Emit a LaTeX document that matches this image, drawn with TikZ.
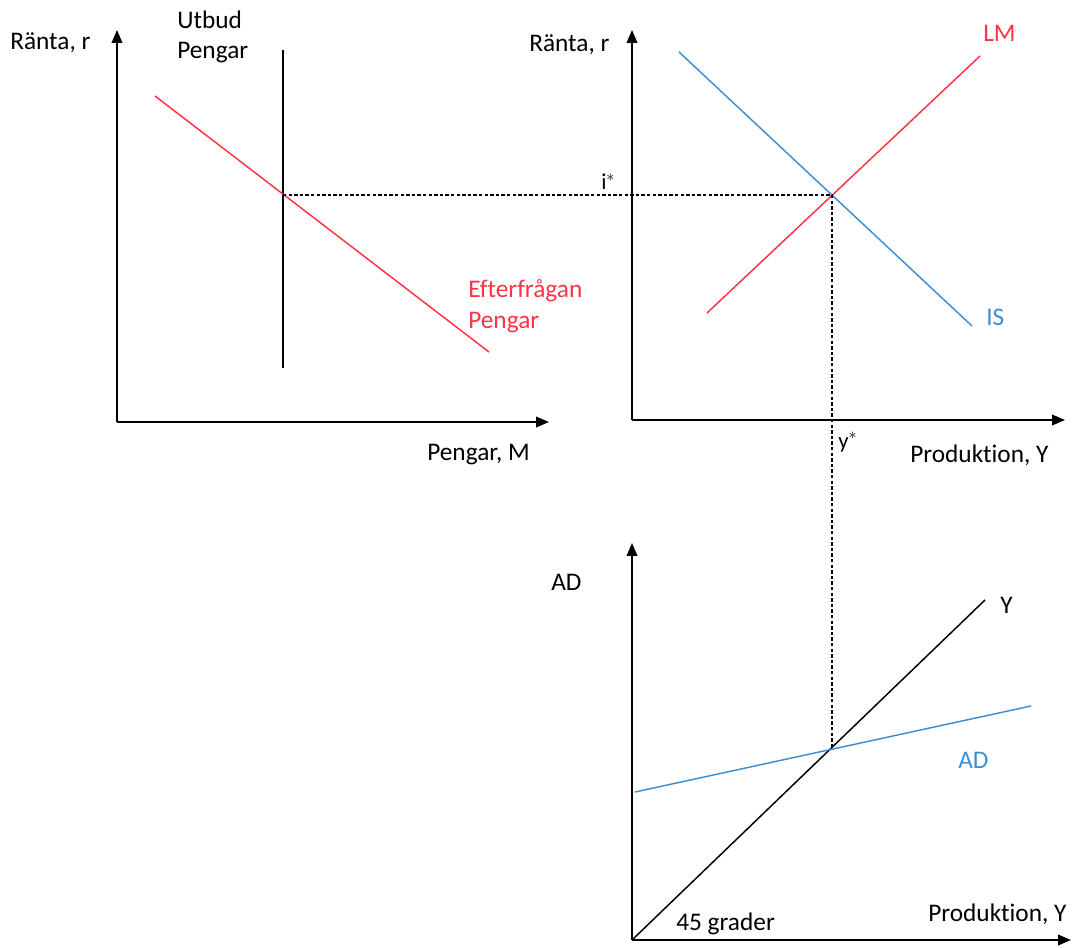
\documentclass[tikz,border=0pt]{standalone}
\usepackage{fontspec}
\setmainfont[Ligatures=NoCommon]{Carlito}
\usetikzlibrary{arrows.meta,positioning}
\definecolor{money}{HTML}{FF3345}
\definecolor{goods}{HTML}{3E8FD2}
\tikzset{
  axis/.style={line width=1.2pt, -{Triangle[length=3.4mm, width=2.8mm]}},
  curve/.style={line width=1.1pt},
  guide/.style={line width=0.8pt, dash pattern=on 2.6pt off 1.6pt},
  txt/.style={font=\fontsize{19}{23}\selectfont, inner sep=0pt, align=left},
  star/.style={font=\fontsize{17}{20}\selectfont, inner sep=0pt}
}
\begin{document}
\begin{tikzpicture}[x=0.75pt,y=-0.75pt]
\path[use as bounding box] (0,0) rectangle (1072,947);
\fill[white] (0,0) rectangle (1072,947);

% money market
\coordinate (mO) at (117,422);
\coordinate (mTop) at (117,30);
\coordinate (mRight) at (549,422);
\coordinate (msA) at (283,50);
\coordinate (msB) at (283,368);
\coordinate (mdA) at (155,96);
\coordinate (mdB) at (489,352);
\coordinate (mEq) at (283,195);
\draw[axis] (mO) -- (mTop);
\draw[axis] (mO) -- (mRight);
\draw[curve, black] (msA) -- (msB);
\draw[curve, money] (mdA) -- (mdB);
\node[txt, anchor=west] (mR) at (10,43) {Ränta, r};
\node[txt, anchor=west] (mSupply) at (177,37) {Utbud\\Pengar};
\node[txt, anchor=west, text=money] (mDemand) at (468,306) {Efterfrågan\\Pengar};
\node[txt, anchor=west] (mM) at (427,455) {Pengar, M};

% IS-LM
\coordinate (iO) at (632,420);
\coordinate (iTop) at (632,30);
\coordinate (iRight) at (1065,420);
\coordinate (isA) at (679,52);
\coordinate (isB) at (972,326);
\coordinate (lmA) at (707,313);
\coordinate (lmB) at (980,56);
\coordinate (iEq) at (832,195);
\draw[axis] (iO) -- (iTop);
\draw[axis] (iO) -- (iRight);
\draw[curve, goods] (isA) -- (isB);
\draw[curve, money] (lmA) -- (lmB);
\node[txt, anchor=west] (iR) at (529,45) {Ränta, r};
\node[txt, anchor=west, text=money] (iLM) at (983,33) {LM};
\node[txt, anchor=west, text=goods] (iIS) at (986,317) {IS};
\node[star, anchor=west] (iStar) at (601,182) {i$^{*}$};
\node[star, anchor=west] (yStar) at (838,442) {y$^{*}$};
\node[txt, anchor=west] (iY) at (910,455) {Produktion, Y};

% 45-degree diagram
\coordinate (aO) at (632,940);
\coordinate (aTop) at (632,543);
\coordinate (aRight) at (1071,940);
\coordinate (yB) at (985,600);
\coordinate (adA) at (635,792);
\coordinate (adB) at (1031,706);
\coordinate (aEq) at (832,748);
\draw[axis] (aO) -- (aTop);
\draw[axis] (aO) -- (aRight);
\draw[curve, black] (aO) -- (yB);
\draw[curve, goods] (adA) -- (adB);
\node[txt, anchor=west] (aAD) at (551,582) {AD};
\node[txt, anchor=west] (aYl) at (1000,605) {Y};
\node[txt, anchor=west, text=goods] (aADl) at (958,760) {AD};
\node[txt, anchor=west] (a45) at (676,924) {45 grader};
\node[txt, anchor=west] (aY) at (928,914) {Produktion, Y};

% equilibrium guides
\draw[guide] (mEq) -- (iEq);
\draw[guide] (iEq) -- (aEq);
\end{tikzpicture}
\end{document}
